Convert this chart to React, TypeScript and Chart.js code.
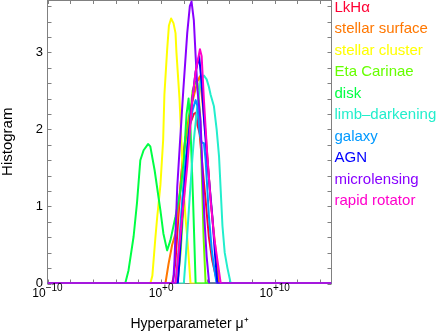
import React, { useEffect, useRef } from 'react';
import { Chart, registerables } from 'chart.js';

Chart.register(...registerables);

// ---- axes ----
const X_MIN_EXP = -10;
const X_MAX_EXP = 15;
const X_LABEL_EXPS = [-10, 0, 10];
const X_TICK_BASE = ['10', '10', '10'];
const X_TICK_SUP = ['\u221210', '+0', '+10'];
const X_MINOR_EXPS = [-10, -8, -6, -4, -2, 0, 2, 4, 6, 8, 10, 12, 14];
const Y_MIN = 0;
const Y_MAX = 3.68;
const Y_LABEL_VALUES = [0, 1, 2, 3];
const Y_MINOR_VALUES = [0, 0.2, 0.4, 0.6, 0.8, 1, 1.2, 1.4, 1.6, 1.8, 2, 2.2, 2.4, 2.6, 2.8, 3, 3.2, 3.4, 3.6];
const X_TITLE = 'Hyperparameter \u03BC\u207A';
const Y_TITLE = 'Histogram';

// ---- series (x as log10(mu), y = histogram) ----
const SERIES_LABELS = [
  'LkH\u03B1',
  'stellar surface',
  'stellar cluster',
  'Eta Carinae',
  'disk',
  'limb\u2013darkening',
  'galaxy',
  'AGN',
  'microlensing',
  'rapid rotator',
];
const SERIES_COLORS = [
  '#ff0033',
  '#ff7700',
  '#ffff00',
  '#66ff00',
  '#00ff44',
  '#22eecc',
  '#0099ff',
  '#0000ff',
  '#8800ff',
  '#ff00cc',
];

const lkhaExp = [0.97, 1.12, 1.27, 1.56, 1.86, 2.15, 2.5, 2.88, 3.08, 3.21, 3.39, 3.65, 3.92, 4.21, 4.5, 4.96];
const lkhaVal = [0, 0.1, 0.3, 0.95, 1.55, 1.9, 2.05, 2.2, 2.22, 2.05, 1.95, 1.5, 1.08, 0.6, 0.3, 0];

const surfaceExp = [0.38, 0.65, 0.97, 1.27, 1.53, 1.86, 2.44, 3.19, 3.42, 3.61, 3.92, 4.36, 4.8, 5.1];
const surfaceVal = [0, 0.25, 0.5, 0.65, 1.0, 1.52, 2.17, 2.62, 2.69, 2.4, 1.95, 1.08, 0.43, 0];

const clusterExp = [-0.95, -0.77, -0.5, -0.35, -0.06, 0.18, 0.29, 0.53, 0.69, 0.88, 1.09, 1.27, 1.35, 1.62, 1.8, 1.97, 2.15, 2.3, 2.59];
const clusterVal = [0, 0.1, 0.6, 0.85, 1.28, 1.86, 2.45, 3.03, 3.35, 3.44, 3.38, 3.25, 3.0, 2.4, 1.8, 1.25, 0.85, 0.6, 0];

const etaExp = [1.44, 1.71, 2.06, 2.42, 2.77, 3.04, 3.21, 3.43, 3.57, 3.74, 3.92];
const etaVal = [0, 0.4, 1.2, 2.0, 2.5, 2.62, 2.6, 2.2, 1.5, 0.6, 0];

const diskExp = [-3.16, -2.87, -2.42, -2.12, -1.83, -1.54, -1.15, -0.95, -0.57, -0.06, 0.2, 0.53, 0.82, 1.27, 1.71, 2.0, 2.24, 2.42, 2.59, 2.81, 3.04];
const diskVal = [0, 0.17, 0.61, 1.05, 1.6, 1.73, 1.81, 1.78, 1.47, 0.95, 0.65, 0.43, 0.56, 0.87, 1.21, 1.6, 2.2, 2.4, 2.0, 1.1, 0];

const limbExp = [2.0, 2.15, 2.44, 2.74, 2.88, 3.19, 3.48, 3.77, 4.01, 4.21, 4.36, 4.65, 4.89, 5.1, 5.25, 5.4, 5.6, 5.84, 6.13];
const limbVal = [0, 0.3, 0.95, 1.6, 1.86, 2.3, 2.64, 2.7, 2.65, 2.55, 2.45, 2.3, 2.0, 1.65, 1.2, 0.75, 0.4, 0.2, 0];

const galaxyExp = [1.27, 1.53, 1.86, 2.15, 2.44, 2.77, 3.04, 3.21, 3.39, 3.57, 3.77, 3.92, 4.21, 4.45, 4.65, 4.89];
const galaxyVal = [0, 0.4, 1.08, 1.6, 1.95, 2.25, 2.38, 2.3, 1.95, 1.83, 1.82, 1.6, 0.87, 0.45, 0.22, 0];

const agnExp = [1.47, 1.62, 1.86, 2.3, 2.74, 3.04, 3.35, 3.57, 3.79, 4.07, 4.51, 4.76, 4.96];
const agnVal = [0, 0.3, 0.87, 1.73, 2.38, 2.75, 2.95, 2.6, 2.1, 1.6, 0.87, 0.35, 0];

const microExp = [1.06, 1.18, 1.42, 1.65, 1.95, 2.3, 2.53, 2.68, 2.88, 3.04, 3.21, 3.48, 3.65, 3.83, 4.01, 4.23];
const microVal = [0, 0.3, 1.25, 1.8, 2.5, 3.25, 3.6, 3.66, 3.42, 2.95, 2.5, 2.1, 1.4, 0.8, 0.35, 0];

const rapidExp = [1.27, 1.71, 2.3, 2.74, 3.04, 3.42, 3.57, 3.77, 4.05, 4.36, 4.67, 4.96, 5.25];
const rapidVal = [0, 0.65, 1.52, 2.38, 2.75, 3.04, 2.95, 2.38, 1.7, 1.08, 0.6, 0.3, 0];

const SERIES_EXPS = [lkhaExp, surfaceExp, clusterExp, etaExp, diskExp, limbExp, galaxyExp, agnExp, microExp, rapidExp];
const SERIES_VALS = [lkhaVal, surfaceVal, clusterVal, etaVal, diskVal, limbVal, galaxyVal, agnVal, microVal, rapidVal];

// ---- styling ----
const FONT = '"Liberation Sans", Arial, Helvetica, sans-serif';
const FRAME_COLOR = '#808080';
const TICK_LEN = 4;
const LEGEND_DX = 3;
const LEGEND_Y0 = 7.8;
const LEGEND_DY = 21.5;
const XLABEL_BASELINE = 297;
const XLABEL_SUP_RAISE = 6.5;

const framePlugin = {
  id: 'frameTicks',
  beforeDatasetsDraw(chart: any) {
    const { ctx, chartArea: a } = chart;
    const xs = chart.scales.x;
    const ys = chart.scales.y;
    ctx.save();
    ctx.strokeStyle = FRAME_COLOR;
    ctx.lineWidth = 1;
    ctx.strokeRect(a.left, a.top + 0.5, a.right - a.left, a.bottom - a.top - 0.5);
    ctx.beginPath();
    X_MINOR_EXPS.forEach((e) => {
      const px = Math.round(xs.getPixelForValue(Math.pow(10, e))) + 0.5;
      ctx.moveTo(px, a.bottom);
      ctx.lineTo(px, a.bottom - TICK_LEN);
      ctx.moveTo(px, a.top);
      ctx.lineTo(px, a.top + TICK_LEN);
    });
    Y_MINOR_VALUES.forEach((v) => {
      const py = Math.round(ys.getPixelForValue(v)) + 0.5;
      ctx.moveTo(a.left, py);
      ctx.lineTo(a.left + TICK_LEN, py);
      ctx.moveTo(a.right, py);
      ctx.lineTo(a.right - TICK_LEN, py);
    });
    ctx.stroke();
    ctx.restore();
  },
};

const labelsPlugin = {
  id: 'textLabels',
  afterDraw(chart: any) {
    const { ctx, chartArea: a } = chart;
    const xs = chart.scales.x;
    ctx.save();
    // legend
    ctx.font = '15px ' + FONT;
    ctx.textBaseline = 'middle';
    ctx.textAlign = 'left';
    chart.data.datasets.forEach((ds: any, i: number) => {
      ctx.fillStyle = ds.borderColor;
      ctx.fillText(ds.label, a.right + LEGEND_DX, a.top + LEGEND_Y0 + i * LEGEND_DY);
    });
    // x tick labels with superscript exponents
    ctx.fillStyle = '#000';
    ctx.textBaseline = 'alphabetic';
    X_LABEL_EXPS.forEach((e, i) => {
      const px = xs.getPixelForValue(Math.pow(10, e));
      ctx.font = '12px ' + FONT;
      const wb = ctx.measureText(X_TICK_BASE[i]).width;
      ctx.font = '10px ' + FONT;
      const ws = ctx.measureText(X_TICK_SUP[i]).width;
      const x0 = px - (wb + ws) / 2;
      ctx.font = '12px ' + FONT;
      ctx.fillText(X_TICK_BASE[i], x0, XLABEL_BASELINE);
      ctx.font = '10px ' + FONT;
      ctx.fillText(X_TICK_SUP[i], x0 + wb, XLABEL_BASELINE - XLABEL_SUP_RAISE);
    });
    ctx.restore();
  },
};

export default function App() {
  const canvasRef = useRef<HTMLCanvasElement | null>(null);

  useEffect(() => {
    document.body.style.margin = '0';
    const canvas = canvasRef.current;
    if (!canvas) return;

    const datasets = SERIES_LABELS.map((label, i) => ({
      label,
      borderColor: SERIES_COLORS[i],
      backgroundColor: SERIES_COLORS[i],
      borderWidth: 2,
      pointRadius: 0,
      tension: 0,
      fill: false,
      borderJoinStyle: 'round' as const,
      order: -i,
      data: [
        { x: Math.pow(10, X_MIN_EXP), y: 0 },
        ...SERIES_EXPS[i].map((e, k) => ({ x: Math.pow(10, e), y: SERIES_VALS[i][k] })),
        { x: Math.pow(10, X_MAX_EXP), y: 0 },
      ],
    }));

    const chart = new Chart(canvas, {
      type: 'line',
      data: { datasets },
      plugins: [framePlugin, labelsPlugin],
      options: {
        animation: false,
        responsive: false,
        devicePixelRatio: 1,
        layout: { padding: { left: 0, right: 104.5, top: 0, bottom: 0 } },
        plugins: { legend: { display: false }, tooltip: { enabled: false } },
        scales: {
          x: {
            type: 'logarithmic',
            position: 'bottom',
            min: Math.pow(10, X_MIN_EXP),
            max: Math.pow(10, X_MAX_EXP),
            grid: { display: false, drawTicks: false },
            border: { display: false },
            afterBuildTicks: (scale: any) => {
              scale.ticks = X_LABEL_EXPS.map((e) => ({ value: Math.pow(10, e) }));
            },
            afterFit: (scale: any) => {
              scale.height = 50.5;
              scale.paddingLeft = 0;
              scale.paddingRight = 0;
              scale.paddingTop = 0;
              scale.paddingBottom = 0;
            },
            ticks: { display: false },
            title: {
              display: true,
              text: X_TITLE,
              color: '#000',
              font: { family: FONT, size: 14 },
              padding: { top: 0, bottom: 1.5 },
            },
          },
          y: {
            type: 'linear',
            position: 'left',
            min: Y_MIN,
            max: Y_MAX,
            grid: { display: false, drawTicks: false },
            border: { display: false },
            afterBuildTicks: (scale: any) => {
              scale.ticks = Y_LABEL_VALUES.map((v) => ({ value: v }));
            },
            afterFit: (scale: any) => {
              scale.width = 47.5;
              scale.paddingLeft = 0;
              scale.paddingRight = 0;
              scale.paddingTop = 0;
              scale.paddingBottom = 0;
            },
            ticks: {
              padding: 4.5,
              color: '#000',
              font: { family: FONT, size: 13 },
              callback: (v: any) => String(v),
            },
            title: {
              display: true,
              text: Y_TITLE,
              color: '#000',
              font: { family: FONT, size: 15, lineHeight: 1 },
              padding: { top: 0, bottom: 0 },
            },
          },
        },
      } as any,
    });

    return () => chart.destroy();
  }, []);

  return (
    <div style={{ position: 'absolute', left: 0, top: 0, width: 436, height: 334 }}>
      <canvas ref={canvasRef} width={436} height={334} />
    </div>
  );
}
